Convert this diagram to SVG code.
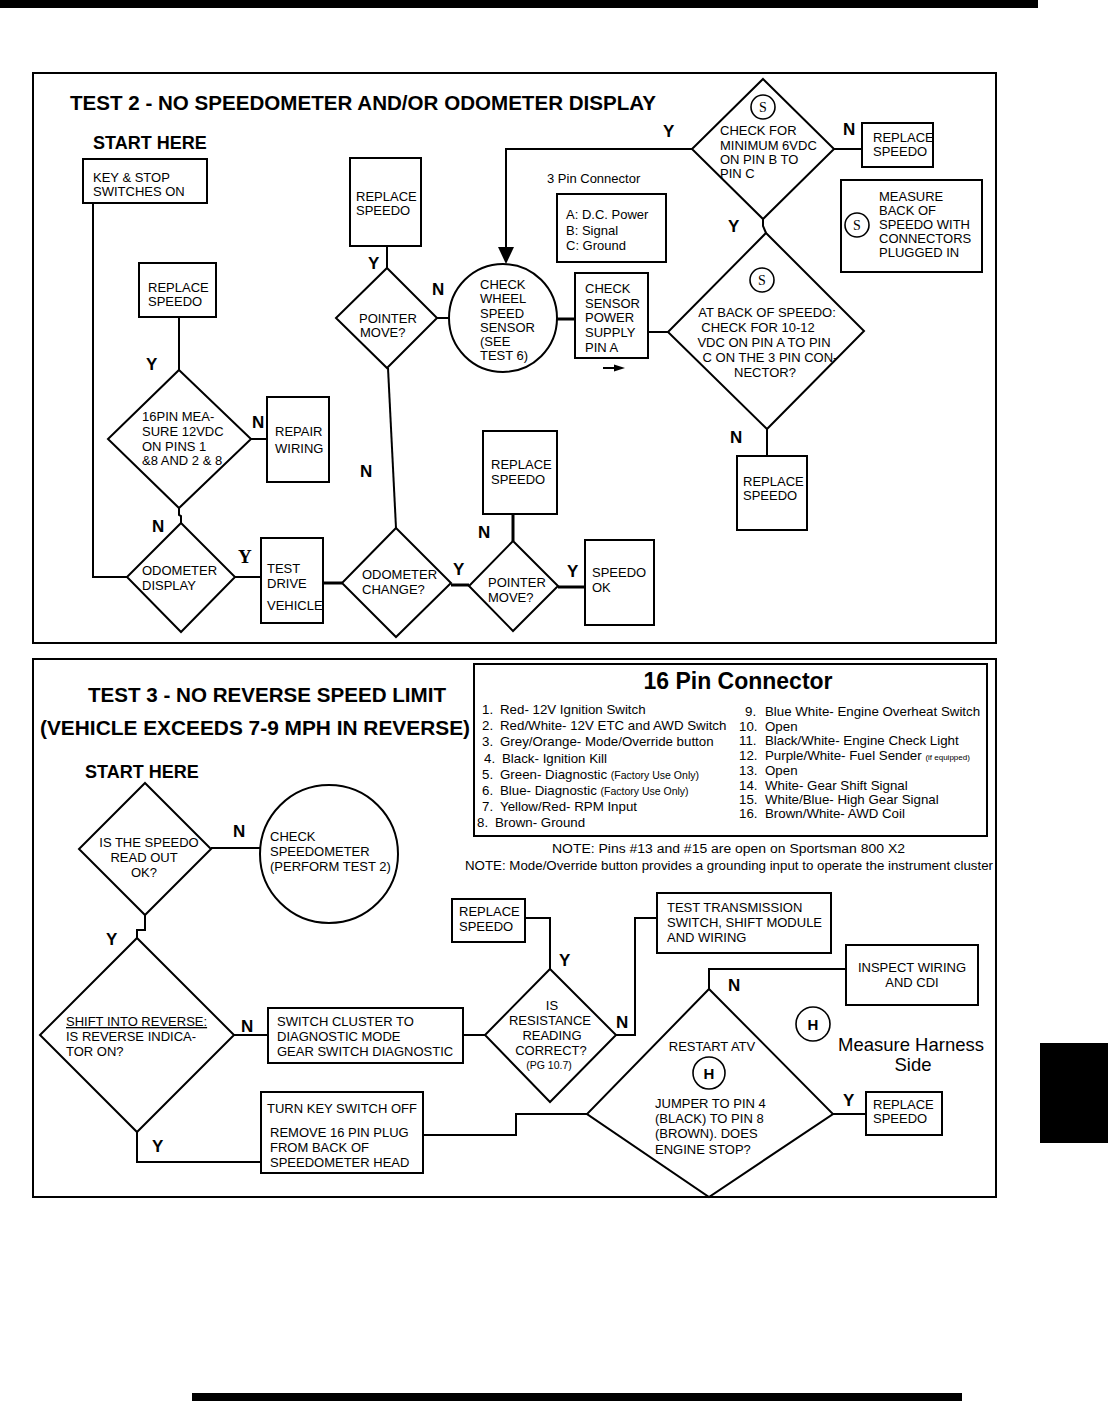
<svg xmlns="http://www.w3.org/2000/svg" width="1108" height="1424" viewBox="0 0 1108 1424">
<style>
text{font-family:"Liberation Sans",Arial,Helvetica,sans-serif;fill:#000}
.t{font-size:13px}
.sm{font-size:10.5px}
.xs{font-size:8px}
.nt{font-size:12.5px}
.lst{font-size:13.3px}
.h{font-size:21px;font-weight:bold}
.yn{font-size:17px;font-weight:bold}
.yns{font-family:"Liberation Serif","Times New Roman",serif;font-size:19px;font-weight:bold}
.sh{fill:#fff;stroke:#000;stroke-width:2}
.ln{fill:none;stroke:#000;stroke-width:2}
.th{stroke-width:3}
.c{text-anchor:middle}
.ci{fill:#fff;stroke:#000;stroke-width:1.6}
.sl{font-family:"Liberation Serif","Times New Roman",serif;font-size:14px;text-anchor:middle}
.hl{font-size:15px;font-weight:bold;text-anchor:middle}
</style>
<rect width="1108" height="1424" fill="#fff"/>
<g id="page">
<rect x="0" y="0" width="1038" height="8" fill="#000"/>
<rect x="192" y="1393" width="770" height="8" fill="#000"/>
<rect x="1040" y="1043" width="68" height="100" fill="#000"/>
<rect x="33" y="73" width="963" height="570" fill="none" stroke="#000" stroke-width="2"/>
<rect x="33" y="659" width="963" height="538" fill="none" stroke="#000" stroke-width="2"/>
</g>

<g id="connectors">
<polyline class="ln" points="93,203 93,577 127,577"/>
<line class="ln" x1="179" y1="317" x2="179" y2="370"/>
<line class="ln" x1="251" y1="439" x2="267" y2="439"/>
<polyline class="ln" points="179,508 179,515 181,516 181,523"/>
<line class="ln" x1="235" y1="577" x2="261" y2="577"/>
<line class="ln th" x1="323" y1="583" x2="342" y2="583"/>
<line class="ln" x1="396" y1="528" x2="388" y2="368"/>
<line class="ln" x1="387" y1="268" x2="387" y2="246"/>
<line class="ln" x1="437" y1="318" x2="450" y2="318"/>
<line class="ln th" x1="557" y1="319" x2="575" y2="319"/>
<line class="ln" x1="648" y1="332" x2="668" y2="332"/>
<polyline class="ln" points="692,149 506,149 506,250"/>
<polygon points="498,247 514,247 506,264" fill="#000"/>
<line class="ln" x1="834" y1="149" x2="862" y2="149"/>
<polyline class="ln" points="763,219 763,226 766,233"/>
<line class="ln" x1="767" y1="429" x2="767" y2="456"/>
<line class="ln th" x1="451" y1="585" x2="469" y2="585"/>
<line class="ln th" x1="513" y1="541" x2="513" y2="514"/>
<line class="ln th" x1="558" y1="587" x2="585" y2="587"/>
<line class="ln" x1="603" y1="368" x2="616" y2="368"/>
<polygon points="614,364.5 625,368 614,371.5" fill="#000"/>
<line class="ln" x1="211" y1="848" x2="260" y2="848"/>
<polyline class="ln" points="145,915 145,930 137,930 137,938"/>
<line class="ln" x1="234" y1="1035" x2="268" y2="1035"/>
<line class="ln" x1="463" y1="1035" x2="485" y2="1035"/>
<polyline class="ln" points="525,918 550,918 550,969"/>
<polyline class="ln" points="616,1035 635,1035 635,918 657,918"/>
<polyline class="ln" points="709,989 709,969 846,969"/>
<line class="ln" x1="833" y1="1114" x2="866" y2="1114"/>
<polyline class="ln" points="587,1114 516,1114 516,1135 423,1135"/>
<polyline class="ln" points="137,1132 137,1162 261,1162"/>
</g>

<g id="titles">
<text class="h" x="70" y="110" textLength="586" lengthAdjust="spacingAndGlyphs">TEST 2 - NO SPEEDOMETER AND/OR ODOMETER DISPLAY</text>
<text x="93" y="149" font-size="18" font-weight="bold">START HERE</text>
<text class="h" x="88" y="702" textLength="358" lengthAdjust="spacingAndGlyphs">TEST 3 - NO REVERSE SPEED LIMIT</text>
<text class="h" x="40" y="735" textLength="430" lengthAdjust="spacingAndGlyphs">(VEHICLE EXCEEDS 7-9 MPH IN REVERSE)</text>
<text x="85" y="778" font-size="18" font-weight="bold">START HERE</text>
</g>

<g id="labels">
<text class="yn" x="146" y="370">Y</text>
<text class="yn" x="252" y="428">N</text>
<text class="yn" x="152" y="532">N</text>
<text class="yns" x="238" y="563">Y</text>
<text class="yn" x="360" y="477">N</text>
<text class="yn" x="368" y="269">Y</text>
<text class="yn" x="432" y="295">N</text>
<text class="yn" x="663" y="137">Y</text>
<text class="yn" x="843" y="135">N</text>
<text class="yn" x="728" y="232">Y</text>
<text class="yn" x="730" y="443">N</text>
<text class="yn" x="453" y="575">Y</text>
<text class="yn" x="478" y="538">N</text>
<text class="yn" x="567" y="577">Y</text>
<text class="yn" x="233" y="837">N</text>
<text class="yn" x="106" y="945">Y</text>
<text class="yn" x="241" y="1032">N</text>
<text class="yn" x="152" y="1152">Y</text>
<text class="yn" x="559" y="966">Y</text>
<text class="yn" x="616" y="1028">N</text>
<text class="yn" x="728" y="991">N</text>
<text class="yn" x="843" y="1106">Y</text>
</g>

<g id="key-stop">
<rect class="sh" x="83" y="159" width="124" height="44"/>
<text class="t" x="93" y="182">KEY &amp; STOP</text>
<text class="t" x="93" y="196">SWITCHES ON</text>
</g>
<g id="replace-speedo-1">
<rect class="sh" x="139" y="263" width="77" height="54"/>
<text class="t" x="148" y="292">REPLACE</text>
<text class="t" x="148" y="306">SPEEDO</text>
</g>
<g id="measure-16pin">
<polygon class="sh" points="179,370 251,439 179,508 108,439"/>
<text class="t" x="142" y="421">16PIN MEA-</text>
<text class="t" x="142" y="436">SURE 12VDC</text>
<text class="t" x="142" y="451">ON PINS 1</text>
<text class="t" x="142" y="465">&amp;8 AND 2 &amp; 8</text>
</g>
<g id="repair-wiring">
<rect class="sh" x="267" y="397" width="62" height="85"/>
<text class="t" x="275" y="436">REPAIR</text>
<text class="t" x="275" y="453">WIRING</text>
</g>
<g id="odometer-display">
<polygon class="sh" points="181,523 235,577 181,632 127,577"/>
<text class="t" x="142" y="575">ODOMETER</text>
<text class="t" x="142" y="590">DISPLAY</text>
</g>
<g id="test-drive">
<rect class="sh" x="261" y="538" width="62" height="85"/>
<text class="t" x="267" y="573">TEST</text>
<text class="t" x="267" y="588">DRIVE</text>
<text class="t" x="267" y="610">VEHICLE</text>
</g>
<g id="odometer-change">
<polygon class="sh" points="396,528 451,583 396,637 342,583"/>
<text class="t" x="362" y="579">ODOMETER</text>
<text class="t" x="362" y="594">CHANGE?</text>
</g>
<g id="pointer-move-1">
<polygon class="sh" points="387,268 437,318 387,368 336,318"/>
<text class="t" x="359" y="323">POINTER</text>
<text class="t" x="360" y="337">MOVE?</text>
</g>
<g id="replace-speedo-2">
<rect class="sh" x="350" y="158" width="71" height="88"/>
<text class="t" x="356" y="201">REPLACE</text>
<text class="t" x="356" y="215">SPEEDO</text>
</g>
<g id="check-wheel-speed">
<circle class="sh" cx="503" cy="318" r="54"/>
<text class="t" x="480" y="289">CHECK</text>
<text class="t" x="480" y="303">WHEEL</text>
<text class="t" x="480" y="318">SPEED</text>
<text class="t" x="480" y="332">SENSOR</text>
<text class="t" x="480" y="346">(SEE</text>
<text class="t" x="480" y="360">TEST 6)</text>
</g>
<g id="check-sensor-power">
<rect class="sh" x="575" y="273" width="73" height="85"/>
<text class="t" x="585" y="293">CHECK</text>
<text class="t" x="585" y="308">SENSOR</text>
<text class="t" x="585" y="322">POWER</text>
<text class="t" x="585" y="337">SUPPLY</text>
<text class="t" x="585" y="352">PIN A</text>
</g>
<g id="three-pin-connector">
<text class="t" x="547" y="183">3 Pin Connector</text>
<rect class="sh" x="557" y="194" width="109" height="68"/>
<text class="t" x="566" y="219">A: D.C. Power</text>
<text class="t" x="566" y="235">B: Signal</text>
<text class="t" x="566" y="250">C: Ground</text>
</g>
<g id="check-6vdc">
<polygon class="sh" points="763,79 834,149 763,219 692,149"/>
<circle class="ci" cx="763" cy="107" r="12"/>
<text class="sl" x="763" y="112">S</text>
<text class="t" x="720" y="135">CHECK FOR</text>
<text class="t" x="720" y="150">MINIMUM 6VDC</text>
<text class="t" x="720" y="164">ON PIN B TO</text>
<text class="t" x="720" y="178">PIN C</text>
</g>
<g id="replace-speedo-3">
<rect class="sh" x="862" y="123" width="71" height="44"/>
<text class="t" x="873" y="142">REPLACE</text>
<text class="t" x="873" y="156">SPEEDO</text>
</g>
<g id="measure-note">
<rect class="sh" x="841" y="180" width="141" height="92"/>
<circle class="ci" cx="857" cy="225" r="12"/>
<text class="sl" x="857" y="230">S</text>
<text class="t" x="879" y="201">MEASURE</text>
<text class="t" x="879" y="215">BACK OF</text>
<text class="t" x="879" y="229">SPEEDO WITH</text>
<text class="t" x="879" y="243">CONNECTORS</text>
<text class="t" x="879" y="257">PLUGGED IN</text>
</g>
<g id="check-10-12vdc">
<polygon class="sh" points="766,233 864,331 767,429 668,332"/>
<circle class="ci" cx="762" cy="280" r="12"/>
<text class="sl" x="762" y="285">S</text>
<text class="t c" x="767" y="317">AT BACK OF SPEEDO:</text>
<text class="t c" x="758" y="332">CHECK FOR 10-12</text>
<text class="t c" x="764" y="347">VDC ON PIN A TO PIN</text>
<text class="t c" x="770" y="362">C ON THE 3 PIN CON-</text>
<text class="t c" x="765" y="377">NECTOR?</text>
</g>
<g id="replace-speedo-4">
<rect class="sh" x="737" y="456" width="70" height="74"/>
<text class="t" x="743" y="486">REPLACE</text>
<text class="t" x="743" y="500">SPEEDO</text>
</g>
<g id="pointer-move-2">
<polygon class="sh" points="513,541 558,586 513,631 469,586"/>
<text class="t" x="488" y="587">POINTER</text>
<text class="t" x="488" y="602">MOVE?</text>
</g>
<g id="replace-speedo-5">
<rect class="sh" x="483" y="431" width="74" height="83"/>
<text class="t" x="491" y="469">REPLACE</text>
<text class="t" x="491" y="484">SPEEDO</text>
</g>
<g id="speedo-ok">
<rect class="sh" x="585" y="540" width="69" height="85"/>
<text class="t" x="592" y="577">SPEEDO</text>
<text class="t" x="592" y="592">OK</text>
</g>

<g id="pin-connector-16">
<rect class="sh" x="474" y="664" width="513" height="172"/>
<text x="738" y="689" font-size="23" font-weight="bold" text-anchor="middle">16 Pin Connector</text>
<text class="lst"><tspan x="482" y="714">1.</tspan><tspan x="500">Red- 12V Ignition Switch</tspan></text>
<text class="lst"><tspan x="482" y="730">2.</tspan><tspan x="500">Red/White- 12V ETC and AWD Switch</tspan></text>
<text class="lst"><tspan x="482" y="746">3.</tspan><tspan x="500">Grey/Orange- Mode/Override button</tspan></text>
<text class="lst"><tspan x="484" y="763">4.</tspan><tspan x="502">Black- Ignition Kill</tspan></text>
<text class="lst"><tspan x="482" y="779">5.</tspan><tspan x="500">Green- Diagnostic </tspan><tspan class="sm">(Factory Use Only)</tspan></text>
<text class="lst"><tspan x="482" y="795">6.</tspan><tspan x="500">Blue- Diagnostic </tspan><tspan class="sm">(Factory Use Only)</tspan></text>
<text class="lst"><tspan x="482" y="811">7.</tspan><tspan x="500">Yellow/Red- RPM Input</tspan></text>
<text class="lst"><tspan x="477" y="827">8.</tspan><tspan x="495">Brown- Ground</tspan></text>
<text class="lst"><tspan x="745" y="716">9.</tspan><tspan x="765">Blue White- Engine Overheat Switch</tspan></text>
<text class="lst"><tspan x="739" y="731">10.</tspan><tspan x="765">Open</tspan></text>
<text class="lst"><tspan x="739" y="745">11.</tspan><tspan x="765">Black/White- Engine Check Light</tspan></text>
<text class="lst"><tspan x="739" y="760">12.</tspan><tspan x="765">Purple/White- Fuel Sender </tspan><tspan class="xs">(if equipped)</tspan></text>
<text class="lst"><tspan x="739" y="775">13.</tspan><tspan x="765">Open</tspan></text>
<text class="lst"><tspan x="739" y="790">14.</tspan><tspan x="765">White- Gear Shift Signal</tspan></text>
<text class="lst"><tspan x="739" y="804">15.</tspan><tspan x="765">White/Blue- High Gear Signal</tspan></text>
<text class="lst"><tspan x="739" y="818">16.</tspan><tspan x="765">Brown/White- AWD Coil</tspan></text>
</g>
<g id="notes">
<text class="nt" x="552" y="853" textLength="353" lengthAdjust="spacingAndGlyphs">NOTE: Pins #13 and #15 are open on Sportsman 800 X2</text>
<text class="nt" x="465" y="870" textLength="528" lengthAdjust="spacingAndGlyphs">NOTE: Mode/Override button provides a grounding input to operate the instrument cluster</text>
</g>
<g id="speedo-readout">
<polygon class="sh" points="145,783 211,849 145,915 79,849"/>
<text class="t c" x="149" y="847">IS THE SPEEDO</text>
<text class="t c" x="144" y="862">READ OUT</text>
<text class="t c" x="144" y="877">OK?</text>
</g>
<g id="check-speedometer">
<circle class="sh" cx="329" cy="854" r="69"/>
<text class="t" x="270" y="841">CHECK</text>
<text class="t" x="270" y="856">SPEEDOMETER</text>
<text class="t" x="270" y="871">(PERFORM TEST 2)</text>
</g>
<g id="shift-reverse">
<polygon class="sh" points="137,938 234,1035 137,1132 40,1035"/>
<text class="t" x="66" y="1026" text-decoration="underline">SHIFT INTO REVERSE:</text>
<text class="t" x="66" y="1041">IS REVERSE INDICA-</text>
<text class="t" x="66" y="1056">TOR ON?</text>
</g>
<g id="switch-cluster">
<rect class="sh" x="268" y="1008" width="195" height="55"/>
<text class="t" x="277" y="1026">SWITCH CLUSTER TO</text>
<text class="t" x="277" y="1041">DIAGNOSTIC MODE</text>
<text class="t" x="277" y="1056">GEAR SWITCH DIAGNOSTIC</text>
</g>
<g id="resistance-reading">
<polygon class="sh" points="550,969 616,1035 550,1102 485,1035"/>
<text class="t c" x="552" y="1010">IS</text>
<text class="t c" x="550" y="1025">RESISTANCE</text>
<text class="t c" x="552" y="1040">READING</text>
<text class="t c" x="551" y="1055">CORRECT?</text>
<text class="sm c" x="549" y="1069">(PG 10.7)</text>
</g>
<g id="replace-speedo-6">
<rect class="sh" x="452" y="899" width="73" height="43"/>
<text class="t" x="459" y="916">REPLACE</text>
<text class="t" x="459" y="931">SPEEDO</text>
</g>
<g id="test-transmission">
<rect class="sh" x="657" y="893" width="174" height="60"/>
<text class="t" x="667" y="912">TEST TRANSMISSION</text>
<text class="t" x="667" y="927">SWITCH, SHIFT MODULE</text>
<text class="t" x="667" y="942">AND WIRING</text>
</g>
<g id="restart-atv">
<polygon class="sh" points="709,989 833,1114 709,1197 587,1114"/>
<text class="t c" x="712" y="1051">RESTART ATV</text>
<circle class="ci" cx="709" cy="1073" r="16"/>
<text class="hl" x="709" y="1079">H</text>
<text class="t" x="655" y="1108">JUMPER TO PIN 4</text>
<text class="t" x="655" y="1123">(BLACK) TO PIN 8</text>
<text class="t" x="655" y="1138">(BROWN). DOES</text>
<text class="t" x="655" y="1154">ENGINE STOP?</text>
</g>
<g id="inspect-wiring">
<rect class="sh" x="846" y="945" width="132" height="60"/>
<text class="t c" x="912" y="972">INSPECT WIRING</text>
<text class="t c" x="912" y="987">AND CDI</text>
</g>
<g id="replace-speedo-7">
<rect class="sh" x="866" y="1092" width="76" height="43"/>
<text class="t" x="873" y="1109">REPLACE</text>
<text class="t" x="873" y="1123">SPEEDO</text>
</g>
<g id="harness-legend">
<circle class="ci" cx="813" cy="1024" r="17"/>
<text class="hl" x="813" y="1030">H</text>
<text x="838" y="1051" font-size="18.5">Measure Harness</text>
<text x="913" y="1071" font-size="18.5" text-anchor="middle">Side</text>
</g>
<g id="turn-key-off">
<rect class="sh" x="261" y="1092" width="162" height="81"/>
<text class="t" x="267" y="1113">TURN KEY SWITCH OFF</text>
<text class="t" x="270" y="1137">REMOVE 16 PIN  PLUG</text>
<text class="t" x="270" y="1152">FROM BACK OF</text>
<text class="t" x="270" y="1167">SPEEDOMETER HEAD</text>
</g>
</svg>
